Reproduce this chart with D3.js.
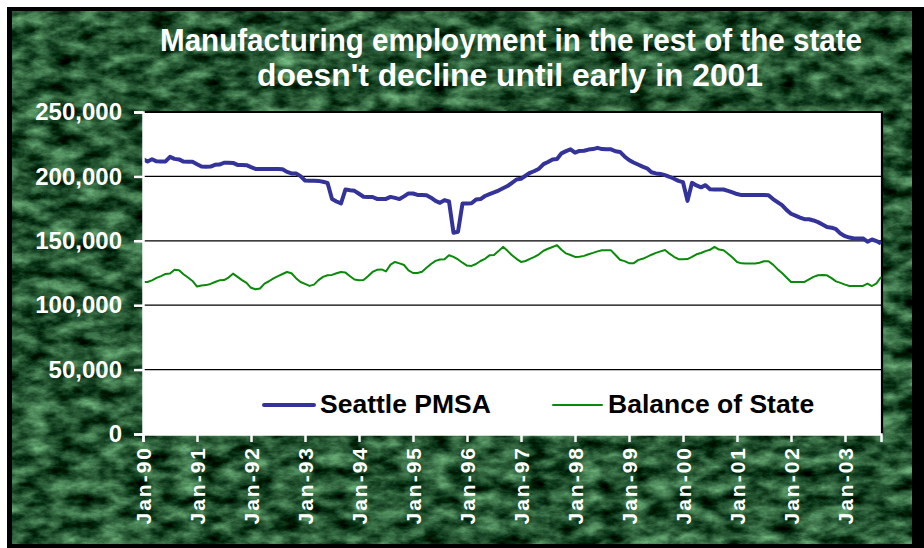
<!DOCTYPE html>
<html>
<head>
<meta charset="utf-8">
<script src="https://cdn.jsdelivr.net/npm/d3@7"></script>
<style>
  html, body { margin: 0; padding: 0; background: #ffffff; }
  svg { display: block; }
  text { font-family: "Liberation Sans", Arial, sans-serif; font-weight: bold; }
</style>
</head>
<body>
<svg id="chart" width="924" height="548"></svg>
<script>
// Monthly manufacturing employment, Jan 1990 – Sep 2003 (thousands of jobs)
const seattlePMSA = [
  213.4, 211.6, 213.3, 211.7, 211.5, 211.6, 215.2, 213.6, 213.2, 211.5, 211.4, 211.4, // 1990
  209.5, 207.6, 207.5, 207.6, 209.0, 209.2, 210.6, 210.6, 210.5, 208.9, 208.8, 208.7, // 1991
  207.2, 205.8, 205.7, 205.7, 205.7, 205.7, 205.8, 205.6, 203.5, 202.3, 202.3, 200.2, // 1992
  196.8, 196.6, 196.6, 196.5, 195.8, 195.0, 182.4, 180.5, 179.0, 189.9, 189.2, 188.8, // 1993
  186.5, 184.2, 184.1, 184.0, 182.5, 182.4, 182.5, 184.1, 183.3, 182.4, 184.5, 186.8, // 1994
  186.7, 185.6, 185.5, 185.4, 183.5, 181.0, 179.5, 181.6, 180.5, 156.2, 157.0, 179.0, // 1995
  179.0, 179.2, 182.0, 182.4, 184.8, 186.3, 187.6, 189.0, 190.8, 192.5, 195.0, 197.6, // 1996
  198.2, 200.5, 202.8, 204.2, 206.0, 209.5, 211.2, 213.2, 213.5, 217.9, 219.6, 221.0, // 1997
  218.4, 219.8, 219.9, 220.8, 221.2, 222.2, 221.2, 221.0, 221.0, 219.5, 219.0, 215.5, // 1998
  212.7, 210.8, 209.2, 207.6, 206.3, 203.2, 202.3, 201.9, 201.0, 199.7, 198.2, 196.5, // 1999
  195.5, 181.0, 195.0, 193.0, 191.5, 193.2, 190.0, 189.9, 189.9, 189.8, 188.8, 187.6, // 2000
  186.3, 185.5, 185.5, 185.5, 185.5, 185.5, 185.5, 185.4, 182.4, 180.0, 177.7, 174.0, // 2001
  171.0, 169.5, 168.0, 166.8, 166.7, 165.8, 164.5, 162.6, 160.7, 160.2, 159.0, 155.6, // 2002
  153.6, 152.5, 151.8, 151.7, 151.8, 149.3, 151.0, 149.8, 147.9                        // 2003
];

const balanceOfState = [
  118.0, 118.0, 119.3, 121.2, 122.6, 124.3, 124.6, 127.6, 127.2, 124.0, 121.5, 118.8, // 1990
  114.5, 115.3, 115.6, 116.5, 118.0, 119.3, 119.5, 121.5, 124.5, 122.0, 119.5, 117.3, // 1991
  113.5, 112.4, 113.0, 116.8, 118.6, 120.8, 122.6, 124.2, 125.8, 124.8, 121.0, 118.0, // 1992
  116.5, 115.0, 116.0, 119.5, 122.0, 123.3, 123.5, 124.8, 125.8, 125.3, 122.5, 120.0, // 1993
  119.4, 119.6, 122.5, 125.8, 127.5, 127.8, 126.2, 131.5, 133.6, 132.5, 131.2, 127.0, // 1994
  125.0, 125.0, 126.0, 129.0, 132.0, 134.4, 135.5, 135.6, 138.8, 137.5, 135.5, 133.0, // 1995
  130.8, 130.5, 132.0, 134.3, 136.0, 138.7, 138.9, 142.0, 145.3, 142.2, 138.8, 136.0, // 1996
  133.6, 134.3, 136.0, 137.5, 139.5, 142.3, 143.8, 145.2, 146.6, 143.0, 140.2, 139.0, // 1997
  137.5, 137.6, 138.3, 139.6, 140.6, 141.8, 142.7, 142.7, 142.6, 139.0, 135.3, 134.2, // 1998
  132.6, 132.5, 135.0, 136.0, 137.5, 139.2, 140.6, 141.8, 142.8, 140.0, 137.6, 135.7, // 1999
  135.7, 135.8, 137.5, 139.5, 140.5, 142.0, 143.0, 145.3, 143.2, 142.7, 140.0, 137.0, // 2000
  133.6, 132.5, 132.4, 132.4, 132.4, 133.0, 134.1, 134.1, 131.5, 128.0, 125.0, 121.5, // 2001
  118.0, 118.0, 118.0, 118.1, 120.0, 122.0, 123.3, 123.4, 123.2, 121.0, 118.5, 117.3, // 2002
  116.0, 114.9, 114.9, 114.9, 115.0, 116.8, 114.9, 117.0, 121.9                        // 2003
];

const months = d3.timeMonth.range(new Date(1990, 0, 1), new Date(2003, 9, 1));
const yearTickLabels = ["Jan-90", "Jan-91", "Jan-92", "Jan-93", "Jan-94", "Jan-95", "Jan-96",
                        "Jan-97", "Jan-98", "Jan-99", "Jan-00", "Jan-01", "Jan-02", "Jan-03"];
const yTickValues = [0, 50, 100, 150, 200, 250];
const seriesNames = ["Seattle PMSA", "Balance of State"];
const titleLines = ["Manufacturing employment in the rest of the state",
                    "doesn't decline until early in 2001"];

const W = 924, H = 548;
const plot = { left: 143, right: 881, top: 112, bottom: 434 };

const svg = d3.select("#chart");

// ---- dark green marble panel ----
const defs = svg.append("defs");
const marble = defs.append("filter")
  .attr("id", "marble")
  .attr("x", 0).attr("y", 0).attr("width", 1).attr("height", 1)
  .attr("filterUnits", "objectBoundingBox")
  .attr("color-interpolation-filters", "sRGB");
marble.append("feTurbulence")
  .attr("type", "fractalNoise")
  .attr("baseFrequency", "0.04 0.075")
  .attr("numOctaves", 5)
  .attr("seed", 11)
  .attr("result", "noise");
marble.append("feColorMatrix")
  .attr("in", "noise")
  .attr("type", "matrix")
  .attr("values",
    "0.75 0 0 0 -0.23 " +
    "0.95 0 0 0 -0.14 " +
    "0.75 0 0 0 -0.18 " +
    "0 0 0 0 1");

svg.append("rect")
  .attr("x", 7).attr("y", 7).attr("width", W - 7).attr("height", H - 7)
  .attr("fill", "#000");
svg.append("rect")
  .attr("x", 12).attr("y", 11).attr("width", 900).attr("height", 533)
  .attr("fill", "#1f5533")
  .attr("filter", "url(#marble)");

// ---- title ----
const title = svg.append("g").attr("fill", "#fff");
title.append("text")
  .attr("x", 511).attr("y", 51)
  .attr("text-anchor", "middle")
  .attr("font-size", 31)
  .attr("textLength", 702).attr("lengthAdjust", "spacingAndGlyphs")
  .text(titleLines[0]);
title.append("text")
  .attr("x", 510).attr("y", 86)
  .attr("text-anchor", "middle")
  .attr("font-size", 31)
  .attr("textLength", 506).attr("lengthAdjust", "spacingAndGlyphs")
  .text(titleLines[1]);

// ---- scales ----
const x = d3.scaleLinear().domain([0, months.length - 1]).range([plot.left, plot.right]);
const y = d3.scaleLinear().domain([0, 250]).range([plot.bottom, plot.top]);

// ---- plot area ----
svg.append("rect")
  .attr("x", plot.left).attr("y", plot.top)
  .attr("width", plot.right - plot.left).attr("height", plot.bottom - plot.top)
  .attr("fill", "#fff");

svg.append("g")
  .selectAll("line")
  .data(yTickValues.filter(v => v > 0 && v < 250))
  .join("line")
  .attr("x1", plot.left).attr("x2", plot.right)
  .attr("y1", d => y(d)).attr("y2", d => y(d))
  .attr("stroke", "#000").attr("stroke-width", 1.2);

// border on top and right edges
svg.append("path")
  .attr("d", `M${plot.left},${plot.top} H${plot.right + 1} V${plot.bottom + 1}`)
  .attr("fill", "none").attr("stroke", "#000").attr("stroke-width", 2.2);

// ---- series ----
const line = d3.line().x((d, i) => x(i)).y(d => y(d));

svg.append("path")
  .datum(balanceOfState)
  .attr("d", line)
  .attr("fill", "none")
  .attr("stroke", "#0a8a0a")
  .attr("stroke-width", 2)
  .attr("stroke-linejoin", "round");

svg.append("path")
  .datum(seattlePMSA)
  .attr("d", line)
  .attr("fill", "none")
  .attr("stroke", "#333399")
  .attr("stroke-width", 4)
  .attr("stroke-linejoin", "round");

// ---- legend ----
const legend = svg.append("g");
const legendItems = [
  { name: seriesNames[0], color: "#333399", width: 4, x0: 264, x1: 314, tx: 320 },
  { name: seriesNames[1], color: "#0a8a0a", width: 2, x0: 553, x1: 602, tx: 608 }
];
legendItems.forEach(it => {
  legend.append("line")
    .attr("x1", it.x0).attr("x2", it.x1)
    .attr("y1", 405).attr("y2", 405)
    .attr("stroke", it.color).attr("stroke-width", it.width)
    .attr("stroke-linecap", "round");
  legend.append("text")
    .attr("x", it.tx).attr("y", 413)
    .attr("font-size", 26.5)
    .attr("fill", "#000")
    .text(it.name);
});

// ---- axes ----
const yAxis = d3.axisLeft(y)
  .tickValues(yTickValues)
  .tickSize(9)
  .tickPadding(12)
  .tickFormat(d => d3.format(",")(d * 1000));
const gy = svg.append("g").attr("transform", `translate(${plot.left},0)`).call(yAxis);
gy.select(".domain").attr("stroke", "#fff").attr("stroke-width", 2.5);
gy.selectAll(".tick line").attr("stroke", "#fff").attr("stroke-width", 2.5);
gy.selectAll(".tick text")
  .attr("fill", "#fff")
  .attr("font-size", 24)
  .attr("font-family", "'Liberation Sans', Arial, sans-serif")
  .attr("font-weight", "bold");

const yearIdx = yearTickLabels.map((_, k) => k * 12);
const xAxis = d3.axisBottom(x)
  .tickValues(yearIdx)
  .tickSize(8)
  .tickFormat((d, k) => yearTickLabels[k]);
const gx = svg.append("g").attr("transform", `translate(0,${plot.bottom})`).call(xAxis);
gx.select(".domain").attr("stroke", "#fff").attr("stroke-width", 2.5);
gx.selectAll(".tick line").attr("stroke", "#fff").attr("stroke-width", 2.5);
gx.selectAll(".tick text")
  .attr("fill", "#fff")
  .attr("font-size", 21)
  .attr("font-family", "'Liberation Sans', Arial, sans-serif")
  .attr("font-weight", "bold")
  .attr("letter-spacing", 2)
  .attr("text-anchor", "end")
  .attr("transform", "rotate(-90)")
  .attr("x", -12)
  .attr("y", 0)
  .attr("dy", "0.36em");
</script>
</body>
</html>
